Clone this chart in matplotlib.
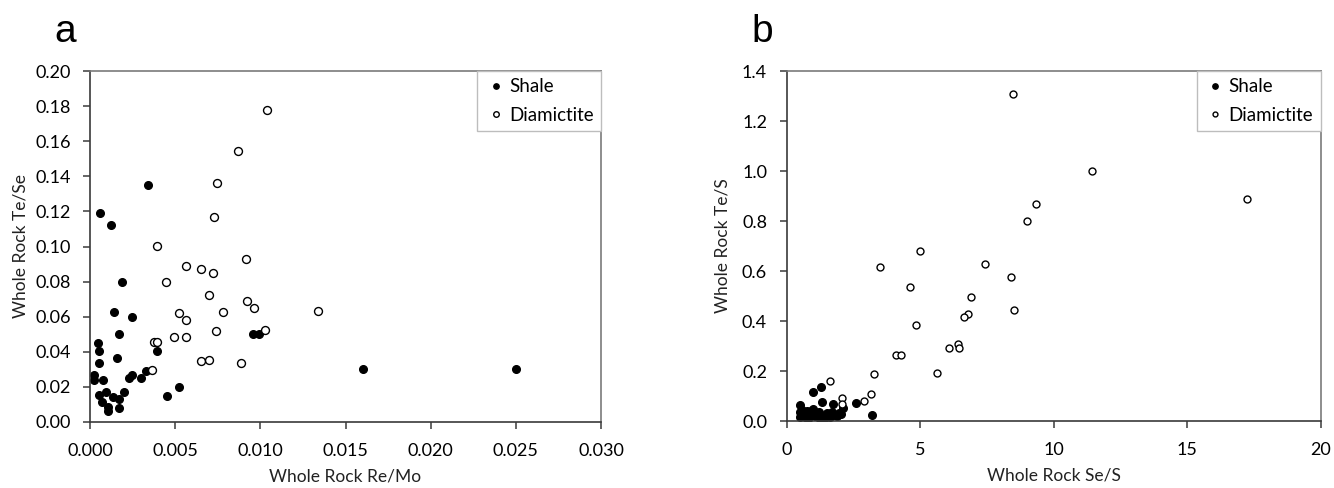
import numpy as np
import matplotlib.pyplot as plt
from matplotlib.ticker import FormatStrFormatter

# panel a: Re/Mo vs Te/Se
shale_remo = [0.00341, 0.0006, 0.00126, 0.00186, 0.00139, 0.00249, 0.00171, 0.00045,
              0.00055, 0.00394, 0.00157, 0.0005, 0.00026, 0.00024, 0.00076, 0.00231,
              0.00244, 0.00297, 0.00328, 0.00522, 0.00451, 0.00055, 0.00094, 0.002,
              0.00073, 0.00134, 0.00105, 0.00105, 0.00173, 0.00173, 0.00958, 0.00995,
              0.016, 0.025]
shale_tese = [0.135, 0.119, 0.1124, 0.080, 0.0626, 0.0601, 0.050, 0.0451,
              0.0402, 0.0402, 0.0364, 0.0334, 0.0265, 0.0237, 0.0237, 0.0252,
              0.0265, 0.0252, 0.0288, 0.0201, 0.0146, 0.0152, 0.0171, 0.0171,
              0.0114, 0.0142, 0.0063, 0.0085, 0.0133, 0.008, 0.050, 0.050,
              0.030, 0.030]
diam_remo = [0.0104, 0.00866, 0.00743, 0.00727, 0.00394, 0.00916, 0.00562, 0.00651,
             0.00722, 0.00449, 0.00698, 0.00919, 0.00963, 0.01339, 0.0078, 0.00522,
             0.00564, 0.0074, 0.01029, 0.00491, 0.00564, 0.00378, 0.00391, 0.00651,
             0.00698, 0.00885, 0.00365]
diam_tese = [0.1776, 0.1545, 0.1363, 0.1166, 0.1001, 0.0931, 0.0889, 0.0874,
             0.0851, 0.080, 0.0724, 0.0688, 0.0652, 0.0631, 0.0626, 0.062,
             0.058, 0.0518, 0.0523, 0.0485, 0.0482, 0.0455, 0.0455, 0.0349,
             0.0351, 0.0334, 0.0296]

# panel b: Se/S vs Te/S
shale_ses = [1.28, 1.0, 1.32, 1.73, 2.6, 2.1, 0.51, 3.2,
             0.51, 0.63, 0.82, 1.0, 1.13, 1.32, 1.51, 1.69, 1.82, 0.69, 0.94,
             1.63, 1.98, 0.51, 1.25, 0.82, 0.58, 0.75, 1.05, 1.2, 1.4, 1.58,
             1.9, 2.05, 0.9, 1.45]
shale_tes = [0.137, 0.117, 0.077, 0.067, 0.073, 0.051, 0.064, 0.023,
             0.037, 0.031, 0.037, 0.047, 0.031, 0.015, 0.031, 0.037, 0.024, 0.015, 0.024,
             0.015, 0.033, 0.017, 0.007, 0.007, 0.045, 0.04, 0.02, 0.035, 0.01, 0.025,
             0.02, 0.03, 0.042, 0.02]
diam_ses = [8.47, 11.44, 17.24, 9.34, 9.01, 5.0, 3.5, 7.42, 8.42, 4.61, 6.91, 8.52,
            6.8, 6.66, 4.84, 4.09, 4.29, 6.09, 6.43, 6.47, 5.63, 3.28, 3.16, 2.89,
            1.64, 2.08, 2.08]
diam_tes = [1.308, 1.0, 0.889, 0.867, 0.799, 0.681, 0.615, 0.628, 0.577, 0.536, 0.497, 0.443,
            0.428, 0.415, 0.384, 0.265, 0.263, 0.292, 0.307, 0.292, 0.193, 0.187, 0.108, 0.081,
            0.161, 0.091, 0.068]

plt.rcParams['font.family'] = ['Lato', 'DejaVu Sans']

fig = plt.figure(figsize=(13.34, 4.88), dpi=100)
ax1 = fig.add_axes([90 / 1334, 66 / 488, 511 / 1334, 351 / 488])
ax2 = fig.add_axes([786.5 / 1334, 67 / 488, 534 / 1334, 350 / 488])


def style_axes(ax):
    for side in ['left', 'bottom']:
        ax.spines[side].set_color('#3a3a3a')
    for side in ['top', 'right']:
        ax.spines[side].set_color('#7a7a7a')
    for sp in ax.spines.values():
        sp.set_linewidth(1.2)
    ax.tick_params(direction='out', length=5, width=1.1, color='#3a3a3a',
                   labelsize=13)
    ax.tick_params(axis='y', pad=9)
    ax.tick_params(axis='x', pad=10)


ax1.plot(shale_remo, shale_tese, 'o', color='black', ms=5.5, label='Shale')
ax1.plot(diam_remo, diam_tese, 'o', mfc='white', mec='black', mew=1.0, ms=5.7,
         label='Diamictite')
ax1.set_xlim(0, 0.030)
ax1.set_ylim(0, 0.20)
ax1.set_xticks(np.arange(0, 0.0301, 0.005))
ax1.set_yticks(np.arange(0, 0.201, 0.02))
ax1.xaxis.set_major_formatter(FormatStrFormatter('%.3f'))
ax1.yaxis.set_major_formatter(FormatStrFormatter('%.2f'))
ax1.set_xlabel('Whole Rock Re/Mo', fontsize=12.5, labelpad=7, color='#222222')
ax1.set_ylabel('Whole Rock Te/Se', fontsize=12.5, labelpad=5, color='#222222')
style_axes(ax1)

ax2.plot(shale_ses, shale_tes, 'o', color='black', ms=5.5, label='Shale')
ax2.plot(diam_ses, diam_tes, 'o', mfc='white', mec='black', mew=1.0, ms=5,
         label='Diamictite')
ax2.set_xlim(0, 20)
ax2.set_ylim(0, 1.4)
ax2.set_xticks(np.arange(0, 21, 5))
ax2.set_yticks(np.arange(0, 1.41, 0.2))
ax2.yaxis.set_major_formatter(FormatStrFormatter('%.1f'))
ax2.set_xlabel('Whole Rock Se/S', fontsize=12.5, labelpad=7, color='#222222')
ax2.set_ylabel('Whole Rock Te/S', fontsize=12.5, labelpad=8, color='#222222')
style_axes(ax2)

for ax in (ax1, ax2):
    leg = ax.legend(loc='upper right', borderaxespad=0, fancybox=False,
                    markerscale=0.7, handlelength=1.2, handletextpad=0.1,
                    fontsize=13.5, borderpad=0.4, labelspacing=0.6,
                    framealpha=1)
    leg.get_frame().set_edgecolor('#bdbdbd')
    leg.get_frame().set_linewidth(1.0)

fig.text(65 / 1334, 1 - 32 / 488, 'a', fontsize=28, family='Liberation Sans',
         ha='center', va='center')
fig.text(762 / 1334, 1 - 32 / 488, 'b', fontsize=28, family='Liberation Sans',
         ha='center', va='center')

plt.savefig('out.png')
